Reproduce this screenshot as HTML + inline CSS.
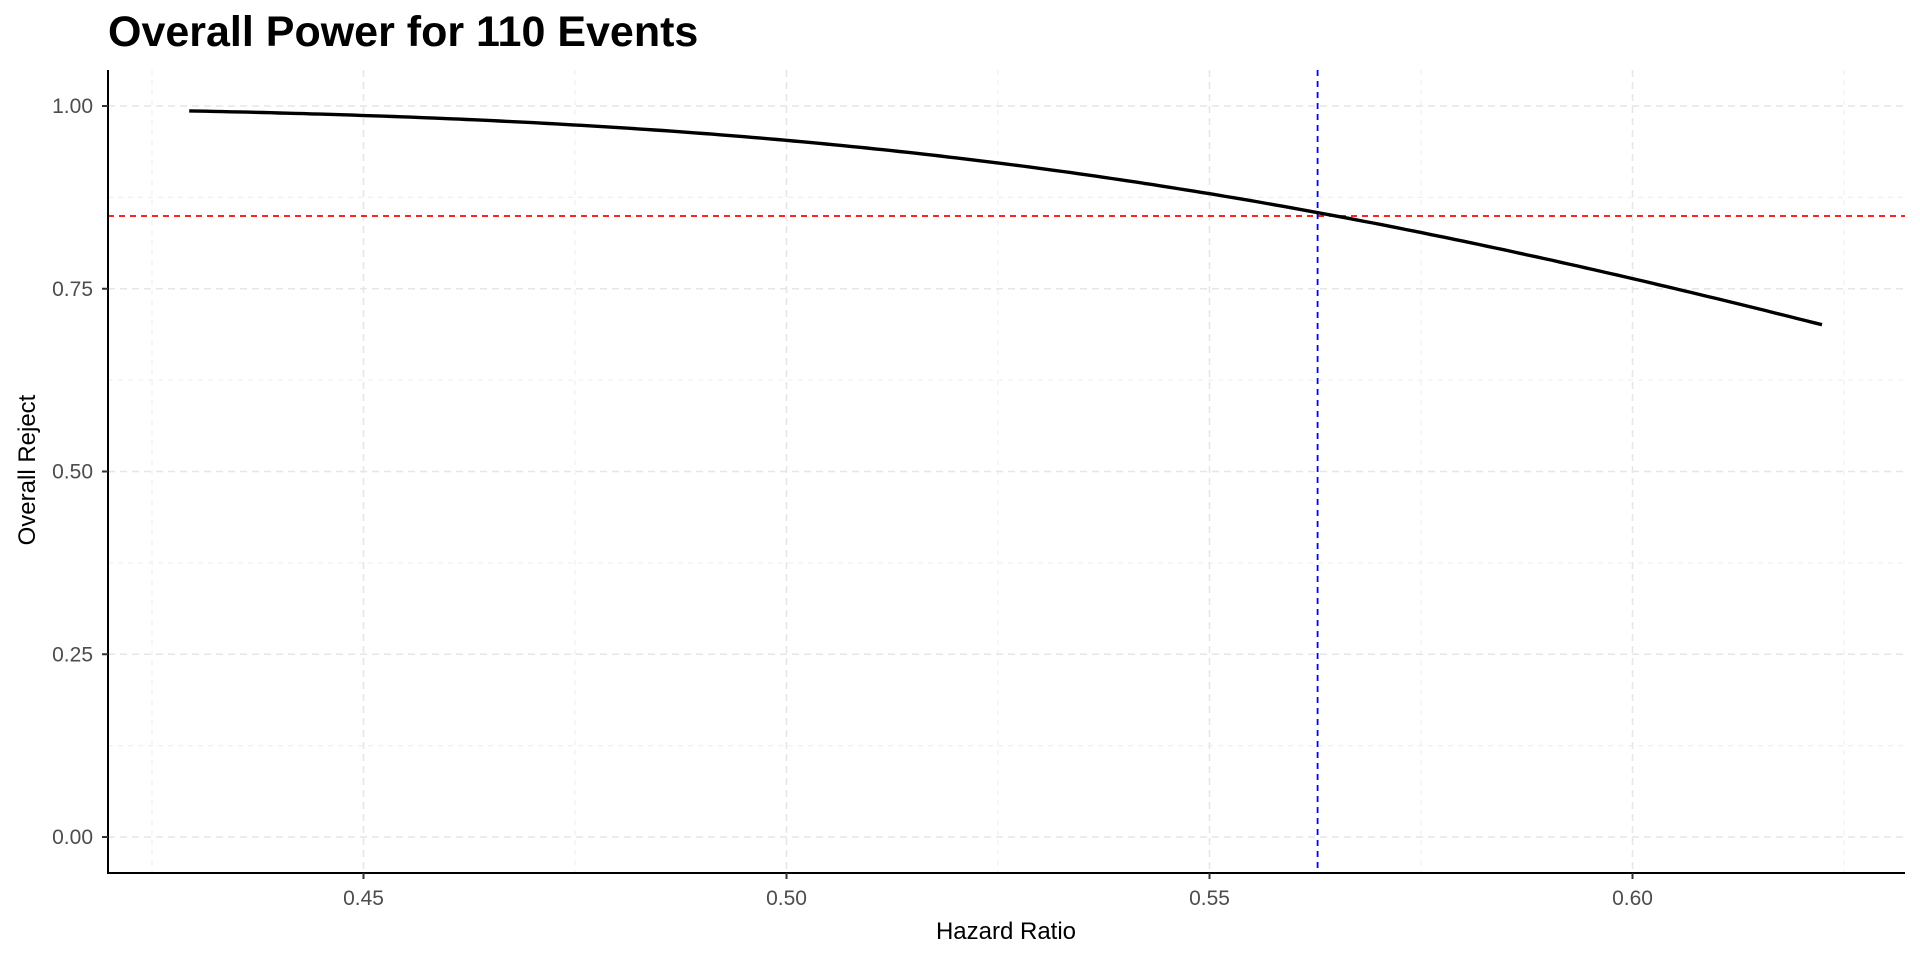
<!DOCTYPE html>
<html><head><meta charset="utf-8"><style>
body{margin:0;background:#fff}
svg{display:block}
text{font-family:"Liberation Sans",Arial,sans-serif}
</style></head><body>
<svg id="s" width="1920" height="960" xmlns="http://www.w3.org/2000/svg">
<rect width="1920" height="960" fill="#fff"/>
<g id="grid"></g>
<line x1="108" y1="216" x2="1905" y2="216" stroke="#ff0000" stroke-width="1.8" stroke-dasharray="6,5"/>
<line x1="1317.6" y1="70" x2="1317.6" y2="873" stroke="#0000ff" stroke-width="1.8" stroke-dasharray="6,5"/>
<path id="curve" fill="none" stroke="#000" stroke-width="3.4" stroke-linejoin="round"/>
<line x1="108" y1="70" x2="108" y2="874" stroke="#000" stroke-width="2"/>
<line x1="107" y1="873" x2="1905" y2="873" stroke="#000" stroke-width="2"/>
<g id="ticks"></g>
<text x="108" y="46" font-size="43" font-weight="bold" fill="#000">Overall Power for 110 Events</text>
<text x="1006" y="939" font-size="24" text-anchor="middle" fill="#000">Hazard Ratio</text>
<text transform="translate(35,470) rotate(-90)" font-size="24" text-anchor="middle" fill="#000">Overall Reject</text>
</svg>
<script>
var NS="http://www.w3.org/2000/svg";
function X(h){return 363.5+(h-0.45)*8460;}
function Y(v){return 837-v*731;}
function el(p,t,a,txt){var e=document.createElementNS(NS,t);for(var k in a)e.setAttribute(k,a[k]);if(txt)e.textContent=txt;p.appendChild(e);}
var g=document.getElementById('grid'),tk=document.getElementById('ticks');
[0.125,0.375,0.625,0.875].forEach(function(v){el(g,'line',{x1:108,x2:1905,y1:Y(v),y2:Y(v),stroke:'#f0f0f0','stroke-width':1.2,'stroke-dasharray':'5,5'});});
[0.425,0.475,0.525,0.575,0.625].forEach(function(h){el(g,'line',{x1:X(h),x2:X(h),y1:70,y2:873,stroke:'#f0f0f0','stroke-width':1.2,'stroke-dasharray':'5,5'});});
[0,0.25,0.5,0.75,1].forEach(function(v){el(g,'line',{x1:108,x2:1905,y1:Y(v),y2:Y(v),stroke:'#e6e6e6','stroke-width':1.6,'stroke-dasharray':'7,5'});
 el(tk,'line',{x1:102,x2:108,y1:Y(v),y2:Y(v),stroke:'#333','stroke-width':2});
 el(tk,'text',{x:93,y:Y(v)+7,'font-size':21,'text-anchor':'end',fill:'#4d4d4d'},v.toFixed(2));});
[0.45,0.5,0.55,0.6].forEach(function(h){el(g,'line',{x1:X(h),x2:X(h),y1:70,y2:873,stroke:'#e6e6e6','stroke-width':1.6,'stroke-dasharray':'7,5'});
 el(tk,'line',{x1:X(h),x2:X(h),y1:873,y2:879,stroke:'#333','stroke-width':2});
 el(tk,'text',{x:X(h),y:905,'font-size':21,'text-anchor':'middle',fill:'#4d4d4d'},h.toFixed(2));});
function Phi(z){var t=1/(1+0.2316419*Math.abs(z));var d=0.3989423*Math.exp(-z*z/2);var p=d*t*(0.3193815+t*(-0.3565638+t*(1.781478+t*(-1.821256+t*1.330274))));return z>0?1-p:p;}
var d="";for(var i=0;i<=200;i++){var h=0.4294+(0.6224-0.4294)*i/200;var p=Phi(Math.sqrt(110)/2*Math.abs(Math.log(h))-1.96);d+=(i?"L":"M")+X(h).toFixed(1)+","+Y(p).toFixed(1);}
document.getElementById('curve').setAttribute('d',d);
</script>
</body></html>
